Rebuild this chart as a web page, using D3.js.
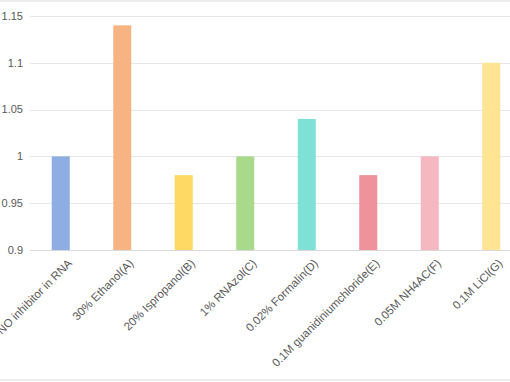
<!DOCTYPE html>
<html>
<head>
<meta charset="utf-8">
<script src="https://cdn.jsdelivr.net/npm/d3@7"></script>
<style>
  html, body { margin: 0; padding: 0; background: #fff; }
  svg { display: block; }
</style>
</head>
<body>
<div id="chart"></div>
<script>
var categories = ["NO inhibitor in RNA", "30% Ethanol(A)", "20% Ispropanol(B)", "1% RNAzol(C)",
                  "0.02% Formalin(D)", "0.1M guanidiniumchloride(E)", "0.05M NH4AC(F)", "0.1M LiCl(G)"];
var values = [1, 1.14, 0.98, 1, 1.04, 0.98, 1, 1.1];
var yTicks = [0.9, 0.95, 1, 1.05, 1.1, 1.15];
var colors = ["#8eaee3", "#f6b482", "#fed963", "#a9d98b", "#7fe0d6", "#f0929c", "#f5b8c1", "#fee493"];

var width = 510, height = 382;

var svg = d3.select("#chart").append("svg")
    .attr("width", width)
    .attr("height", height)
    .style("font-family", "'Liberation Sans', Arial, sans-serif");

// outer frame
svg.append("rect")
    .attr("x", -1).attr("y", 1)
    .attr("width", width + 2).attr("height", 379)
    .attr("fill", "none")
    .attr("stroke", "#d9d9d9");

var x = d3.scaleBand()
    .domain(categories)
    .range([30, 522])
    .paddingInner(0.707)
    .paddingOuter(0.3535);

var y = d3.scaleLinear()
    .domain([0.9, 1.15])
    .range([250, 16]);

// gridlines
svg.append("g").selectAll("line").data(yTicks)
    .enter().append("line")
    .attr("x1", 30).attr("x2", width)
    .attr("y1", function(d) { return Math.round(y(d)) + 0.5; })
    .attr("y2", function(d) { return Math.round(y(d)) + 0.5; })
    .attr("stroke", function(d) { return d === 0.9 ? "#d9d9d9" : "#e6e6e6"; })
    .attr("stroke-width", 1);

// y labels
svg.append("g").selectAll("text").data(yTicks)
    .enter().append("text")
    .attr("x", 23)
    .attr("y", function(d) { return y(d); })
    .attr("dy", "0.35em")
    .attr("text-anchor", "end")
    .attr("font-size", "11px")
    .attr("fill", "#595959")
    .text(function(d) { return d3.format("")(d); });

// bars
svg.append("g").selectAll("rect").data(values)
    .enter().append("rect")
    .attr("x", function(d, i) { return x(categories[i]); })
    .attr("width", x.bandwidth())
    .attr("y", function(d) { return y(d); })
    .attr("height", function(d) { return y(0.9) - y(d); })
    .attr("fill", function(d, i) { return colors[i]; });

// x labels
svg.append("g").selectAll("text").data(categories)
    .enter().append("text")
    .attr("transform", function(d) {
        var cx = x(d) + x.bandwidth() / 2;
        return "translate(" + (cx + 12) + ",264) rotate(-45)";
    })
    .attr("text-anchor", "end")
    .attr("font-size", "11.5px")
    .attr("fill", "#595959")
    .text(function(d) { return d; });
</script>
</body>
</html>
